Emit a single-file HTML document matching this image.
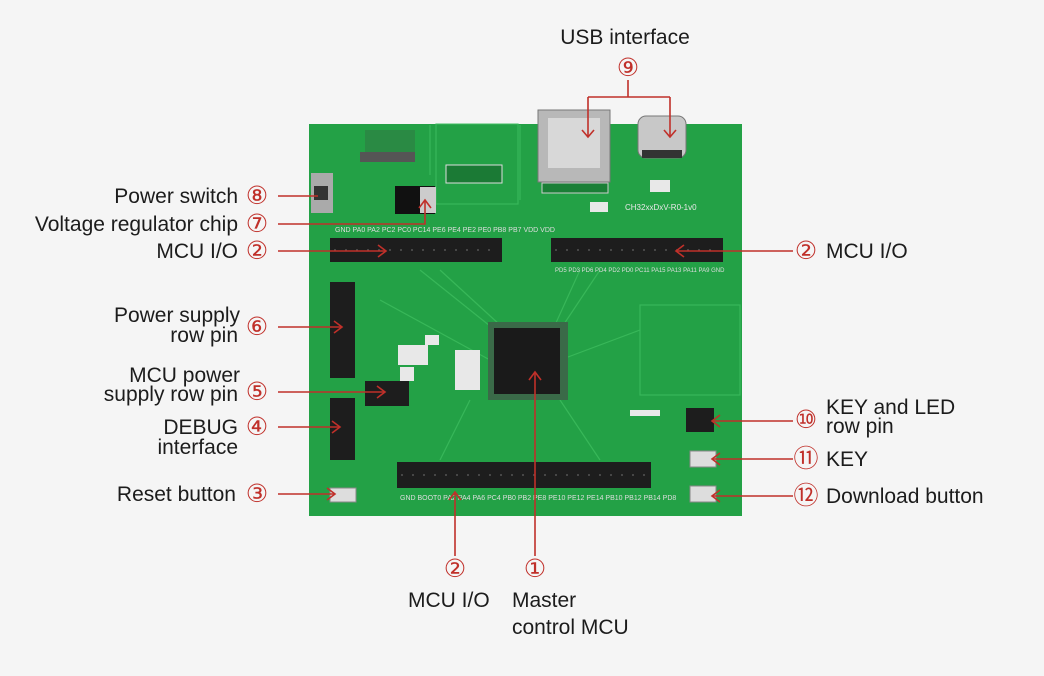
<!DOCTYPE html><html><head><meta charset="utf-8"><style>
body{margin:0;background:#f5f5f5;}
svg{display:block}
text{font-family:"Liberation Sans","DejaVu Sans",sans-serif;fill:#1c1c1c;font-size:21px}
.n{fill:#c0302a;font-family:"DejaVu Sans",sans-serif;font-size:25px}
</style></head><body>
<svg width="1044" height="676" viewBox="0 0 1044 676">
<rect width="1044" height="676" fill="#f5f5f5"/>
<rect x="309" y="124" width="433" height="392" fill="#23a146"/>
<g stroke="#3dbd5e" stroke-width="1.2" fill="none" opacity="0.8">
<path d="M420 270 L495 330 M440 270 L500 325 M580 270 L555 325 M600 270 L560 330 M470 400 L440 460 M560 400 L600 460 M380 300 L490 360 M560 360 L640 330 M430 125 L430 175 M520 125 L520 200"/>
<rect x="436" y="124" width="82" height="80"/><rect x="640" y="305" width="100" height="90"/>
</g>
<rect x="538" y="110" width="72" height="72" fill="#b8b8b8" stroke="#777"/>
<rect x="548" y="118" width="52" height="50" fill="#d8d8d8"/>
<rect x="542" y="183" width="66" height="10" fill="#1a7f36" stroke="#ccc"/>
<rect x="638" y="116" width="48" height="42" rx="8" fill="#c8c8c8" stroke="#777"/>
<rect x="642" y="150" width="40" height="8" fill="#333"/>
<rect x="311" y="173" width="22" height="40" fill="#aaa"/><rect x="314" y="186" width="14" height="14" fill="#333"/>
<rect x="395" y="186" width="40" height="28" fill="#111"/><rect x="420" y="187" width="16" height="26" fill="#ccc"/>
<rect x="365" y="130" width="50" height="28" fill="#2a8a44"/><rect x="360" y="152" width="55" height="10" fill="#555"/>
<rect x="446" y="165" width="56" height="18" fill="#1b7a35" stroke="#ddd"/>
<rect x="330" y="238" width="172" height="24" fill="#1d1d1d"/>
<rect x="551" y="238" width="172" height="24" fill="#1d1d1d"/>
<rect x="397" y="462" width="254" height="26" fill="#1d1d1d"/>
<rect x="330" y="282" width="25" height="96" fill="#1d1d1d"/>
<rect x="330" y="398" width="25" height="62" fill="#1d1d1d"/>
<rect x="365" y="381" width="44" height="25" fill="#1d1d1d"/>
<rect x="686" y="408" width="28" height="24" fill="#1d1d1d"/>
<g stroke="#555" stroke-width="1.5" stroke-dasharray="2 9"><path d="M334 250h165M555 250h165M401 475h248"/></g>
<text x="335" y="232" style="font-size:7px;fill:#ddd">GND PA0 PA2 PC2 PC0 PC14 PE6 PE4 PE2 PE0 PB8 PB7 VDD VDD</text>
<text x="555" y="272" style="font-size:6px;fill:#ddd">PD5 PD3 PD6 PD4 PD2 PD0 PC11 PA15 PA13 PA11 PA9 GND</text>
<text x="400" y="500" style="font-size:7px;fill:#ddd">GND BOOT0 PA2 PA4 PA6 PC4 PB0 PB2 PE8 PE10 PE12 PE14 PB10 PB12 PB14 PD8</text>
<rect x="488" y="322" width="80" height="78" fill="#3a6a48"/>
<rect x="494" y="328" width="66" height="66" fill="#1a1a1a"/>
<rect x="330" y="488" width="26" height="14" fill="#ddd" stroke="#888"/>
<rect x="690" y="451" width="26" height="16" fill="#ddd" stroke="#888"/>
<rect x="690" y="486" width="26" height="16" fill="#ddd" stroke="#888"/>
<g fill="#e8e8e8"><rect x="650" y="180" width="20" height="12"/><rect x="590" y="202" width="18" height="10"/><rect x="425" y="335" width="14" height="10"/><rect x="400" y="367" width="14" height="14"/><rect x="630" y="410" width="30" height="6"/><rect x="398" y="345" width="30" height="20"/><rect x="455" y="350" width="25" height="40"/></g>
<text x="625" y="210" style="font-size:8px;fill:#e8e8e8">CH32xxDxV-R0-1v0</text>
<g stroke="#c0302a" stroke-width="1.6" fill="none">
<path d="M628 80V97M588 97H670M588 97V137M670 97V137"/>
<path d="M278 196H318M278 224H425V200M278 251H386M278 327H342M278 392H385M278 427H340M278 494H335"/>
<path d="M793 251H676M793 421H712M793 459H712M793 496H712"/>
<path d="M455 556V492M535 556V372"/>
<path d="M582 130L588 137L594 130M664 130L670 137L676 130M378 245L386 251L378 257M334 321L342 327L334 333M377 386L385 392L377 398M332 421L340 427L332 433M327 488L335 494L327 500M684 245L676 251L684 257M720 415L712 421L720 427M720 453L712 459L720 465M720 490L712 496L720 502M449 500L455 492L461 500M529 380L535 372L541 380M419 208L425 200L431 208"/>
</g>
<text x="625" y="44" text-anchor="middle">USB interface</text><text class="n" x="628" y="76" text-anchor="middle">⑨</text>
<g text-anchor="end">
<text x="238" y="203">Power switch</text>
<text x="238" y="231">Voltage regulator chip</text>
<text x="238" y="258">MCU I/O</text>
<text x="240" y="322">Power supply</text><text x="238" y="342">row pin</text>
<text x="240" y="382">MCU power</text><text x="238" y="401">supply row pin</text>
<text x="238" y="434">DEBUG</text><text x="238" y="454">interface</text>
<text x="236" y="501">Reset button</text>
</g>
<g text-anchor="middle">
<text class="n" x="257" y="204">⑧</text><text class="n" x="257" y="232">⑦</text><text class="n" x="257" y="259">②</text>
<text class="n" x="257" y="335">⑥</text><text class="n" x="257" y="400">⑤</text><text class="n" x="257" y="435">④</text><text class="n" x="257" y="502">③</text>
<text class="n" x="806" y="259">②</text><text class="n" x="806" y="428">⑩</text><text class="n" x="806" y="467">⑪</text><text class="n" x="806" y="504">⑫</text>
<text class="n" x="455" y="577">②</text><text class="n" x="535" y="577">①</text>
</g>
<text x="826" y="258">MCU I/O</text>
<text x="826" y="414">KEY and LED</text><text x="826" y="433">row pin</text>
<text x="826" y="466">KEY</text>
<text x="826" y="503">Download button</text>
<text x="408" y="607">MCU I/O</text>
<text x="512" y="607">Master</text><text x="512" y="634">control MCU</text>
</svg></body></html>
